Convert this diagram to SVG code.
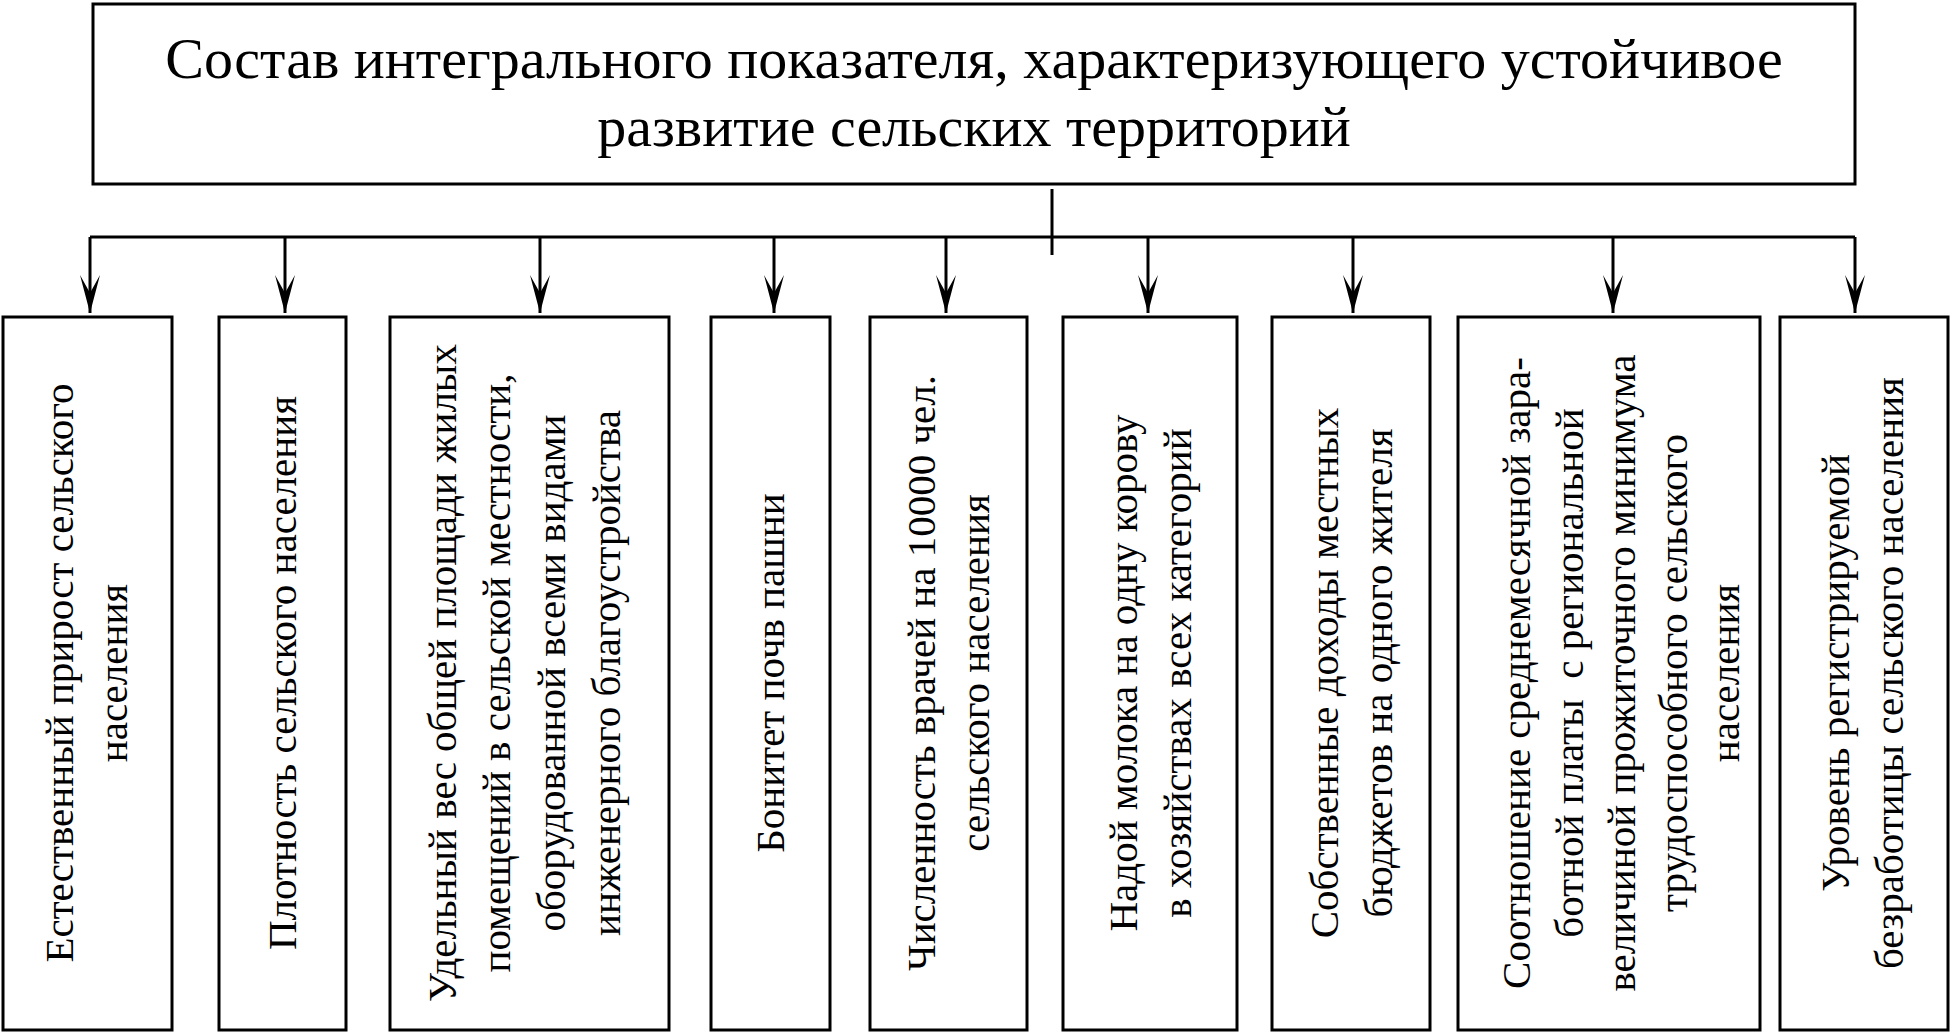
<svg xmlns="http://www.w3.org/2000/svg" width="1952" height="1032" viewBox="0 0 1952 1032">
<style>
rect{fill:#fff;stroke:#000;stroke-width:3}
text{font-family:"Liberation Serif","Times New Roman",serif;fill:#000}
.t{font-size:58px;text-anchor:middle}
.b{font-size:41px;text-anchor:middle}
.c{stroke:#000;stroke-width:3;fill:none}
</style>
<defs>
<marker id="a" markerUnits="userSpaceOnUse" markerWidth="40" markerHeight="20" refX="38" refY="10" orient="auto" viewBox="0 0 40 20">
<path d="M0,0 L38,10 L0,20 L18,10 Z" fill="#000"/>
</marker>
</defs>
<rect width="1952" height="1032" style="fill:#fff;stroke:none"/>
<g id="title"><rect x="93" y="4" width="1762" height="180"/>
<text class="t" x="974" y="78">Состав интегрального показателя, характеризующего устойчивое</text>
<text class="t" x="974" y="146">развитие сельских территорий</text></g>
<g id="connectors">
<line class="c" x1="1052" y1="189" x2="1052" y2="255"/>
<line class="c" x1="90" y1="237" x2="1855" y2="237"/>
<g marker-end="url(#a)">
<line class="c" x1="90" y1="237" x2="90" y2="313"/>
<line class="c" x1="285" y1="237" x2="285" y2="313"/>
<line class="c" x1="540" y1="237" x2="540" y2="313"/>
<line class="c" x1="774" y1="237" x2="774" y2="313"/>
<line class="c" x1="946" y1="237" x2="946" y2="313"/>
<line class="c" x1="1148" y1="237" x2="1148" y2="313"/>
<line class="c" x1="1353" y1="237" x2="1353" y2="313"/>
<line class="c" x1="1613" y1="237" x2="1613" y2="313"/>
<line class="c" x1="1855" y1="237" x2="1855" y2="313"/>
</g></g>
<g id="n1"><rect x="3" y="317" width="169" height="713"/>
<text class="b" transform="translate(73,673) rotate(-90)">Естественный прирост сельского</text>
<text class="b" transform="translate(127,673) rotate(-90)">населения</text></g>
<g id="n2"><rect x="219" y="317" width="127" height="713"/>
<text class="b" transform="translate(296,673) rotate(-90)">Плотность сельского населения</text></g>
<g id="n3"><rect x="390" y="317" width="279" height="713"/>
<text class="b" transform="translate(456,673) rotate(-90)">Удельный вес общей площади жилых</text>
<text class="b" transform="translate(510,673) rotate(-90)">помещений в сельской местности,</text>
<text class="b" transform="translate(565,673) rotate(-90)">оборудованной всеми видами</text>
<text class="b" transform="translate(620,673) rotate(-90)">инженерного благоустройства</text></g>
<g id="n4"><rect x="711" y="317" width="119" height="713"/>
<text class="b" transform="translate(784,673) rotate(-90)">Бонитет почв пашни</text></g>
<g id="n5"><rect x="870" y="317" width="157" height="713"/>
<text class="b" transform="translate(935,673) rotate(-90)">Численность врачей на 10000 чел.</text>
<text class="b" transform="translate(989,673) rotate(-90)">сельского населения</text></g>
<g id="n6"><rect x="1063" y="317" width="174" height="713"/>
<text class="b" transform="translate(1137,673) rotate(-90)">Надой молока на одну корову</text>
<text class="b" transform="translate(1191,673) rotate(-90)">в хозяйствах всех категорий</text></g>
<g id="n7"><rect x="1272" y="317" width="158" height="713"/>
<text class="b" transform="translate(1338,673) rotate(-90)">Собственные доходы местных</text>
<text class="b" transform="translate(1392,673) rotate(-90)">бюджетов на одного жителя</text></g>
<g id="n8"><rect x="1458" y="317" width="302" height="713"/>
<text class="b" transform="translate(1530,673) rotate(-90)">Соотношение среднемесячной зара-</text>
<text class="b" transform="translate(1583,673) rotate(-90)" xml:space="preserve">ботной платы  с региональной</text>
<text class="b" transform="translate(1635,673) rotate(-90)">величиной прожиточного минимума</text>
<text class="b" transform="translate(1687,673) rotate(-90)">трудоспособного сельского</text>
<text class="b" transform="translate(1739,673) rotate(-90)">населения</text></g>
<g id="n9"><rect x="1780" y="317" width="168" height="713"/>
<text class="b" transform="translate(1849,673) rotate(-90)">Уровень регистрируемой</text>
<text class="b" transform="translate(1903,673) rotate(-90)">безработицы сельского населения</text></g>
</svg>
